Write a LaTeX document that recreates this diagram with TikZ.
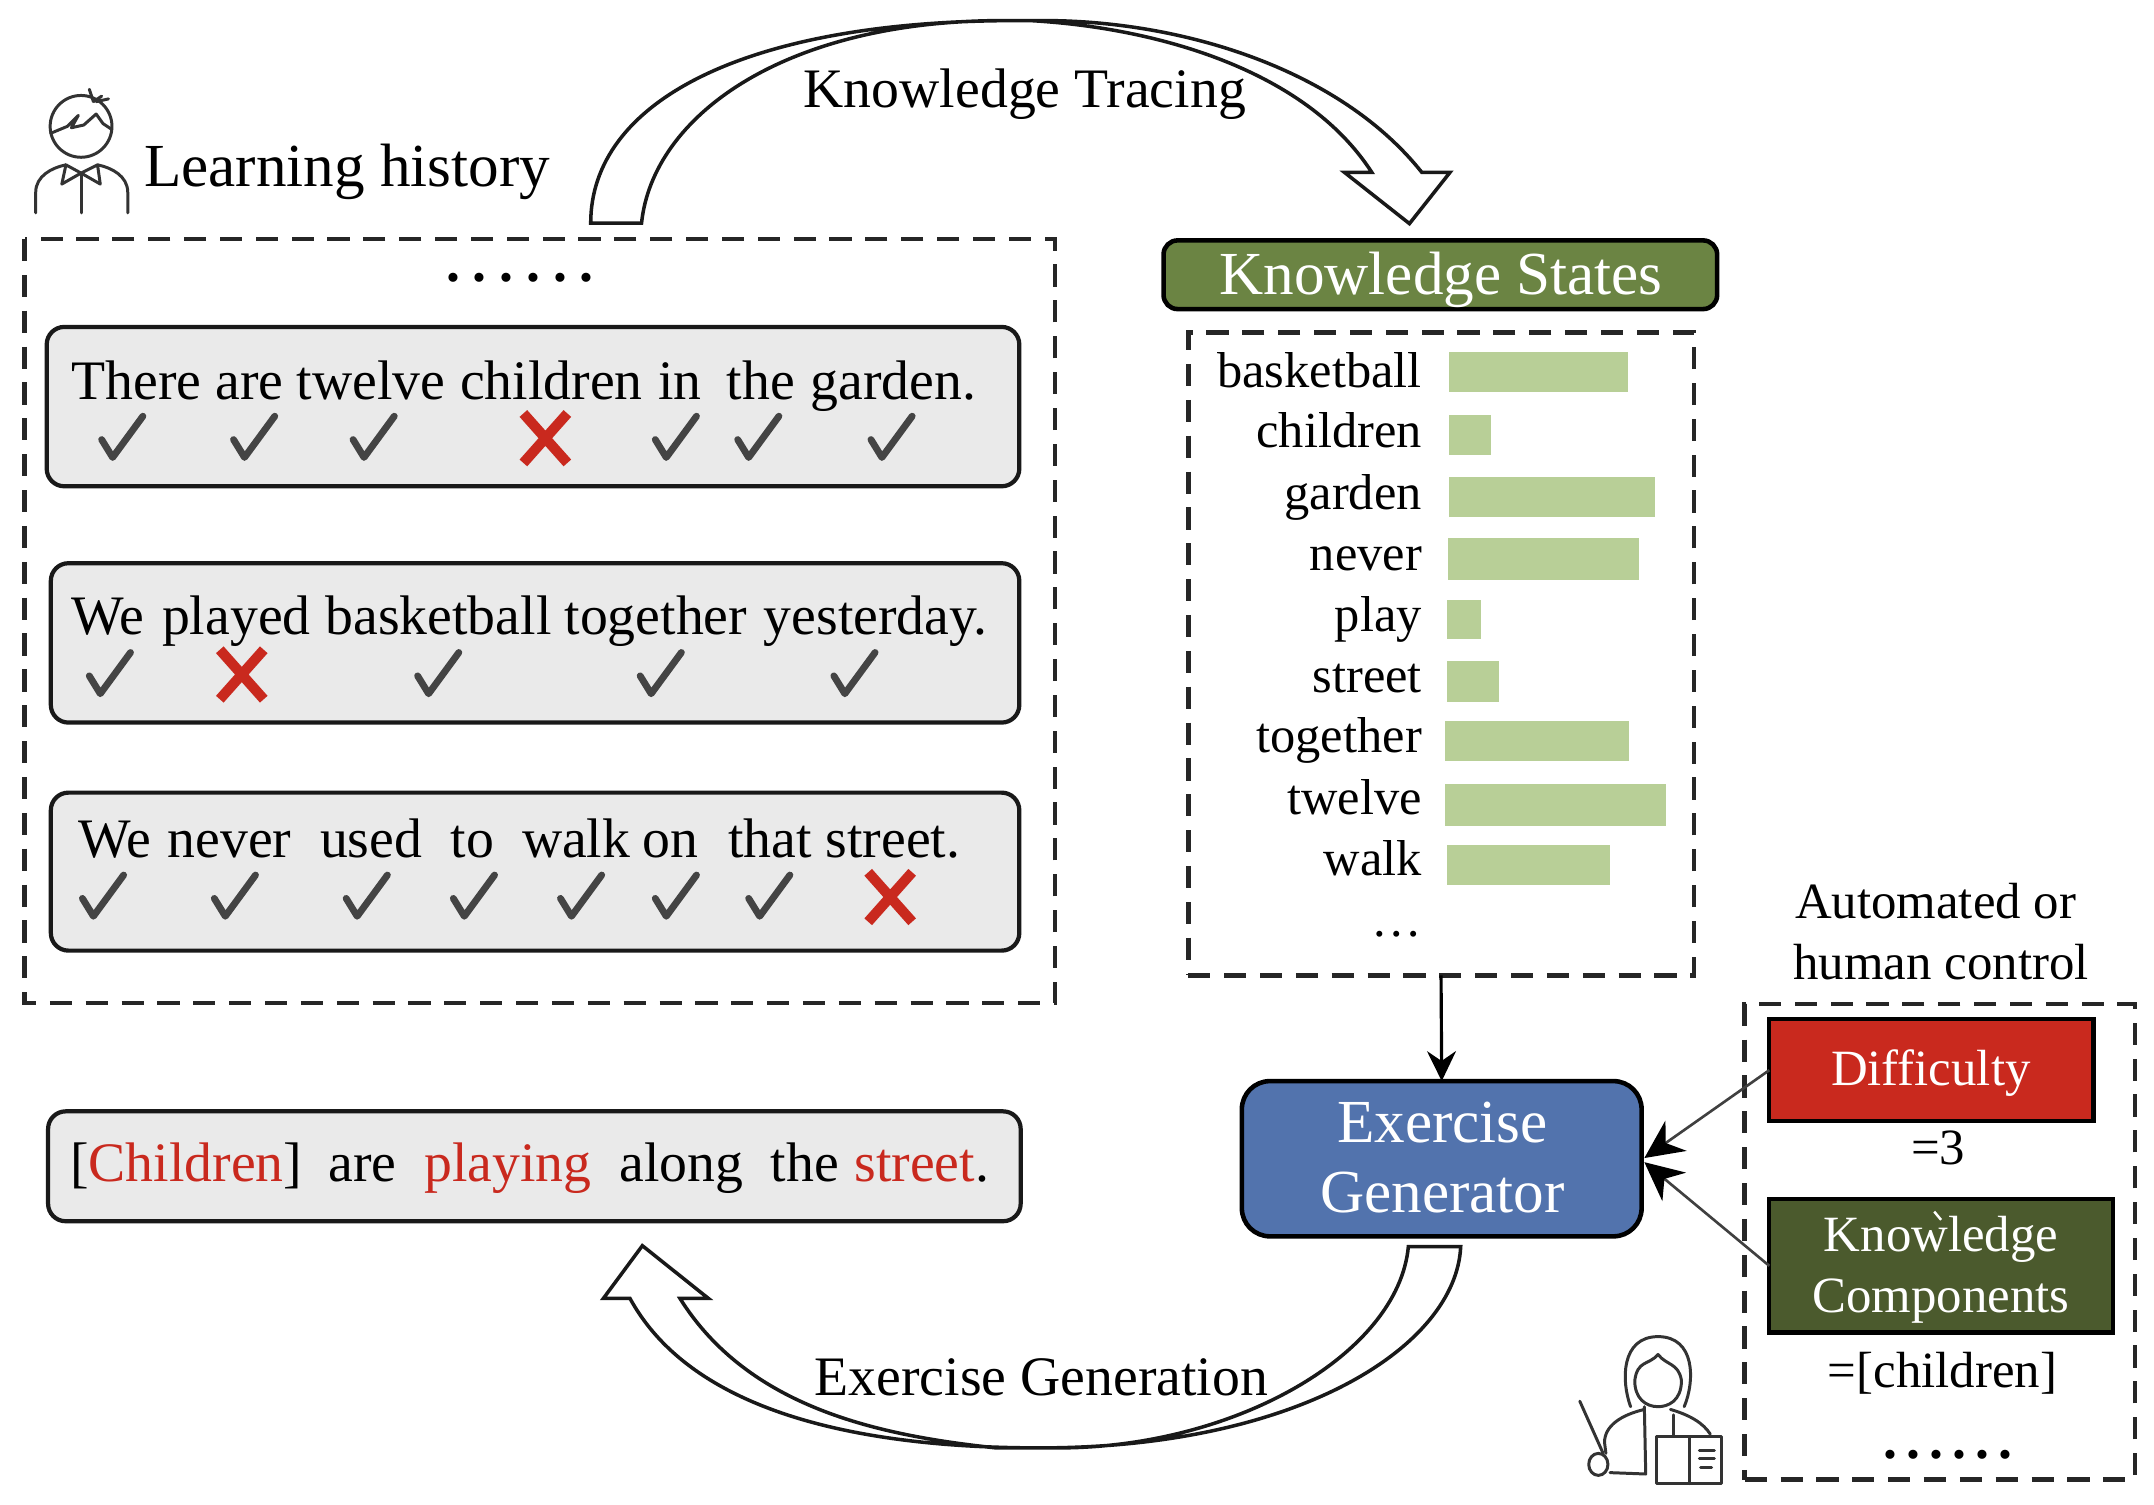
\documentclass[tikz,border=0pt]{standalone}
\usepackage{fontspec}
\setmainfont{Liberation Serif}
\usetikzlibrary{arrows.meta}
\definecolor{redc}{HTML}{C9291E}
\definecolor{greyfill}{HTML}{EAEAEA}
\definecolor{ksgreen}{HTML}{6B8443}
\definecolor{bargreen}{HTML}{B8CF97}
\definecolor{egblue}{HTML}{5273AD}
\definecolor{kcgreen}{HTML}{4B5A2D}
\definecolor{chk}{HTML}{444444}
\tikzset{
  szA/.style={inner sep=0,outer sep=0,anchor=base,font=\fontsize{17.4}{20}\selectfont},
  szB/.style={inner sep=0,outer sep=0,anchor=base,font=\fontsize{15.85}{18}\selectfont},
  szC/.style={inner sep=0,outer sep=0,anchor=base,font=\fontsize{14.35}{17}\selectfont},
  szD/.style={inner sep=0,outer sep=0,anchor=base,font=\fontsize{14.46}{17}\selectfont},
  word/.style={szB,anchor=base west},
  lab/.style={szC,anchor=base east},
  dashbox/.style={draw=black!85,line width=1.3pt,dash pattern=on 6.3pt off 3.9pt},
  sbox/.style={draw=black!90,fill=greyfill,line width=1.2pt,rounded corners=5pt},
  hollow/.style={draw=black!90,fill=white,line width=1pt,line join=miter},
  bar/.style={fill=bargreen,draw=none},
  icon/.style={draw=black!80,line width=.85pt,fill=none,line cap=round,line join=round},
  bx/.style={inner sep=0,outer sep=0,anchor=center},
  conn/.style={draw=black,line width=.9pt,-{Stealth[length=8.5pt,width=8.2pt]}},
  connb/.style={draw=black!75,line width=.75pt,-{Stealth[length=11pt,width=10.5pt,color=black]}},
}
\newcommand{\ok}[2]{\draw[chk,line width=1.95pt,line join=round,line cap=round] (#1-15,#2+2) -- (#1-7,#2+15) -- (#1+15,#2-15);}
\newcommand{\no}[2]{\draw[redc,line width=2.9pt] (#1-16,#2-18) -- (#1+16,#2+18) (#1+16,#2-18) -- (#1-16,#2+18);}
\newcommand{\dotsrow}[1]{\textbf{.\kern#1.\kern#1.\kern#1.\kern#1.\kern#1.}}
\begin{document}
\begin{tikzpicture}[x=0.013737cm,y=-0.013737cm]
\useasboundingbox (0,0) rectangle (1568,1094.9);

% top hollow arrow
\path[hollow] (430,162.5) .. controls (430,75) and (540,15) .. (740,15) -- (760,15)
  .. controls (860,15) and (975,50) .. (1035,125.5) -- (1055.5,125.5) -- (1026,162.8) -- (978.7,125.5) -- (998.6,125.5)
  .. controls (950,50) and (840,20) .. (750,15) -- (730,15)
  .. controls (570,15) and (475,85) .. (467,162.5) -- cycle;
\node[szB] (kt) at (746,78) {Knowledge Tracing};

% student icon
\draw[icon] (59,92) circle (22.5);
\draw[icon] (37,97) -- (49,92) -- (57,84) -- (52,93) -- (61,91) -- (70,83) -- (75,90) -- (81,94);
\draw[icon] (65,65) -- (68,74) (79,72) -- (70,74) (74,70) -- (68,74);
\draw[icon] (26,155) -- (26,140) .. controls (26,128) and (38,122) .. (48,120) (93,155) -- (93,140) .. controls (93,128) and (81,122) .. (71,120);
\draw[icon] (59,127) -- (59,155);
\draw[icon] (48,120) -- (45,134) -- (59,126) -- (73,134) -- (71,120) -- (59,126) -- cycle;
\node[szA,anchor=base west] (lh) at (105,136) {Learning history};

% learning history box
\draw[dashbox] (18,174) rectangle (768,730);
\node[szB] (d1) at (378.5,205) {\dotsrow{.23em}};

\path[sbox] (34,238) rectangle (742,354);
\node[word] (s1a) at (52,291) {There};
\node[word] (s1b) at (157,291) {are};
\node[word] (s1c) at (216,291) {twelve};
\node[word] (s1d) at (335,291) {children};
\node[word] (s1e) at (479,291) {in};
\node[word] (s1f) at (529,291) {the};
\node[word] (s1g) at (590,291) {garden.};
\ok{89}{318}\ok{185}{318}\ok{272}{318}\no{397}{319}\ok{492}{318}\ok{552}{318}\ok{649}{318}

\path[sbox] (37,410) rectangle (742,526);
\node[word] (s2a) at (52,462) {We};
\node[word] (s2b) at (118,462) {played};
\node[word] (s2c) at (237,462) {basketball};
\node[word] (s2d) at (411,462) {together};
\node[word] (s2e) at (556,462) {yesterday.};
\ok{80}{490}\no{176}{491}\ok{319}{490}\ok{481}{490}\ok{622}{490}

\path[sbox] (37,577) rectangle (742,692);
\node[word] (s3a) at (57,624) {We};
\node[word] (s3b) at (122,624) {never};
\node[word] (s3c) at (233,624) {used};
\node[word] (s3d) at (328,624) {to};
\node[word] (s3e) at (380,624) {walk};
\node[word] (s3f) at (468,624) {on};
\node[word] (s3g) at (530,624) {that};
\node[word] (s3h) at (601,624) {street.};
\ok{75}{652}\ok{171}{652}\ok{267}{652}\ok{345}{652}\ok{423}{652}\ok{492}{652}\ok{560}{652}\no{648}{653}

\path[sbox] (35,809) rectangle (743,889);
\node[word] (s4a) at (51,860) {[\textcolor{redc}{Children}]};
\node[word] (s4b) at (239,860) {are};
\node[word,text=redc] (s4c) at (309,860) {playing};
\node[word] (s4d) at (451,860) {along};
\node[word] (s4e) at (561,860) {the};
\node[word] (s4f) at (622,860) {\textcolor{redc}{street}.};

% knowledge states
\node[bx,draw=black,fill=ksgreen,line width=1.3pt,rounded corners=4pt,minimum width=403*0.013737cm,minimum height=50*0.013737cm] (ksh) at (1048.5,200) {};
\node[szA,text=white] (kst) at (1049,214.5) {Knowledge States};
\node[bx,dashbox,minimum width=368*0.013737cm,minimum height=468*0.013737cm] (ks) at (1049,476) {};
\node[lab] (l1) at (1035,282) {basketball};
\node[lab] (l2) at (1035,326) {children};
\node[lab] (l3) at (1035,371) {garden};
\node[lab] (l4) at (1035,415) {never};
\node[lab] (l5) at (1035,460) {play};
\node[lab] (l6) at (1035,504) {street};
\node[lab] (l7) at (1035,548) {together};
\node[lab] (l8) at (1035,593) {twelve};
\node[lab] (l9) at (1035,637) {walk};
\node[szC] (l10) at (1017,682) {…};
\path[bar] (1055,256) rectangle (1185,285);
\path[bar] (1055,302) rectangle (1085,331);
\path[bar] (1055,347) rectangle (1205,376);
\path[bar] (1054,392) rectangle (1193,422);
\path[bar] (1053,437) rectangle (1078,465);
\path[bar] (1053,481) rectangle (1091,511);
\path[bar] (1052,525) rectangle (1186,554);
\path[bar] (1052,571) rectangle (1213,601);
\path[bar] (1053,615) rectangle (1172,644);

% exercise generator
\node[bx,draw=black,fill=egblue,line width=1.3pt,rounded corners=8pt,minimum width=291*0.013737cm,minimum height=113*0.013737cm] (eg) at (1049.5,843.5) {};
\node[szA,text=white] (eg1) at (1050,831.5) {Exercise};
\node[szA,text=white] (eg2) at (1050,883) {Generator};
\draw[conn] (ks.south) -- (eg.north);

% control panel
\node[szD] (c1) at (1409,668.5) {Automated or};
\node[szD] (c2) at (1413,713) {human control};
\node[bx,dashbox,minimum width=284*0.013737cm,minimum height=346*0.013737cm] (ctrl) at (1412,904) {};
\node[bx,draw=black,fill=redc,line width=1.2pt,minimum width=236*0.013737cm,minimum height=74*0.013737cm] (diff) at (1406,779) {};
\node[szD,text=white] (diff1) at (1405.5,790) {Difficulty};
\node[szD] (eq3) at (1411,848) {=3};
\node[bx,draw=black,fill=kcgreen,line width=1.2pt,minimum width=250*0.013737cm,minimum height=97*0.013737cm] (kc) at (1413,921.5) {};
\node[szD,text=white] (kc1) at (1413,911) {Knowledge};
\node[szD,text=white] (kc2) at (1413,955.5) {Components};
\draw[white,line width=.7pt] (1408,882) -- (1413,888);
\node[szD] (eqc) at (1414,1010) {=[children]};
\node[szB] (d2) at (1418,1062) {\dotsrow{.16em}};
\coordinate (egin1) at (1197,843);
\coordinate (egin2) at (1197,846);
\draw[connb] (diff.west) -- (egin1);
\draw[connb] (kc.west) -- (egin2);

% bottom hollow arrow
\path[hollow] (1063.3,907.5) .. controls (1060,980) and (945,1054) .. (757,1054)
  .. controls (630,1054) and (505,1030) .. (458.6,945.2) -- (439.2,945.2) -- (467.6,906.8) -- (515.7,945.2) -- (495,945.2)
  .. controls (545,1025) and (640,1045) .. (725,1054) -- (770,1054)
  .. controls (900,1054) and (1018,985) .. (1025.2,907.5) -- cycle;
\node[szB] (xg) at (758,1015.5) {Exercise Generation};

% teacher icon
\draw[icon] (1187,1024) .. controls (1180,1005) and (1180,973) .. (1207,973) .. controls (1234,973) and (1234,1005) .. (1226,1024);
\draw[icon] (1190,1005) .. controls (1192,990) and (1200,994) .. (1207,986) .. controls (1213,994) and (1222,992) .. (1224,1005) .. controls (1224,1020) and (1214,1024) .. (1207,1024) .. controls (1198,1024) and (1190,1018) .. (1190,1005);
\draw[icon] (1197,1026) .. controls (1180,1030) and (1168,1038) .. (1168,1050) -- (1169,1058);
\draw[icon] (1216,1026) .. controls (1230,1030) and (1240,1036) .. (1245,1044);
\draw[icon] (1197,1024) -- (1198,1073) -- (1172,1072);
\draw[icon] (1218,1030) -- (1218,1045);
\draw[icon] (1150,1020) -- (1167,1058);
\draw[icon] (1163.5,1066) ellipse (7 and 8);
\draw[icon] (1206,1046) rectangle (1253.5,1080);
\draw[icon] (1230,1046) -- (1230,1080);
\draw[icon] (1237,1056) -- (1248,1056) (1237,1062) -- (1248,1062) (1238,1068) -- (1246,1068);
\end{tikzpicture}
\end{document}
